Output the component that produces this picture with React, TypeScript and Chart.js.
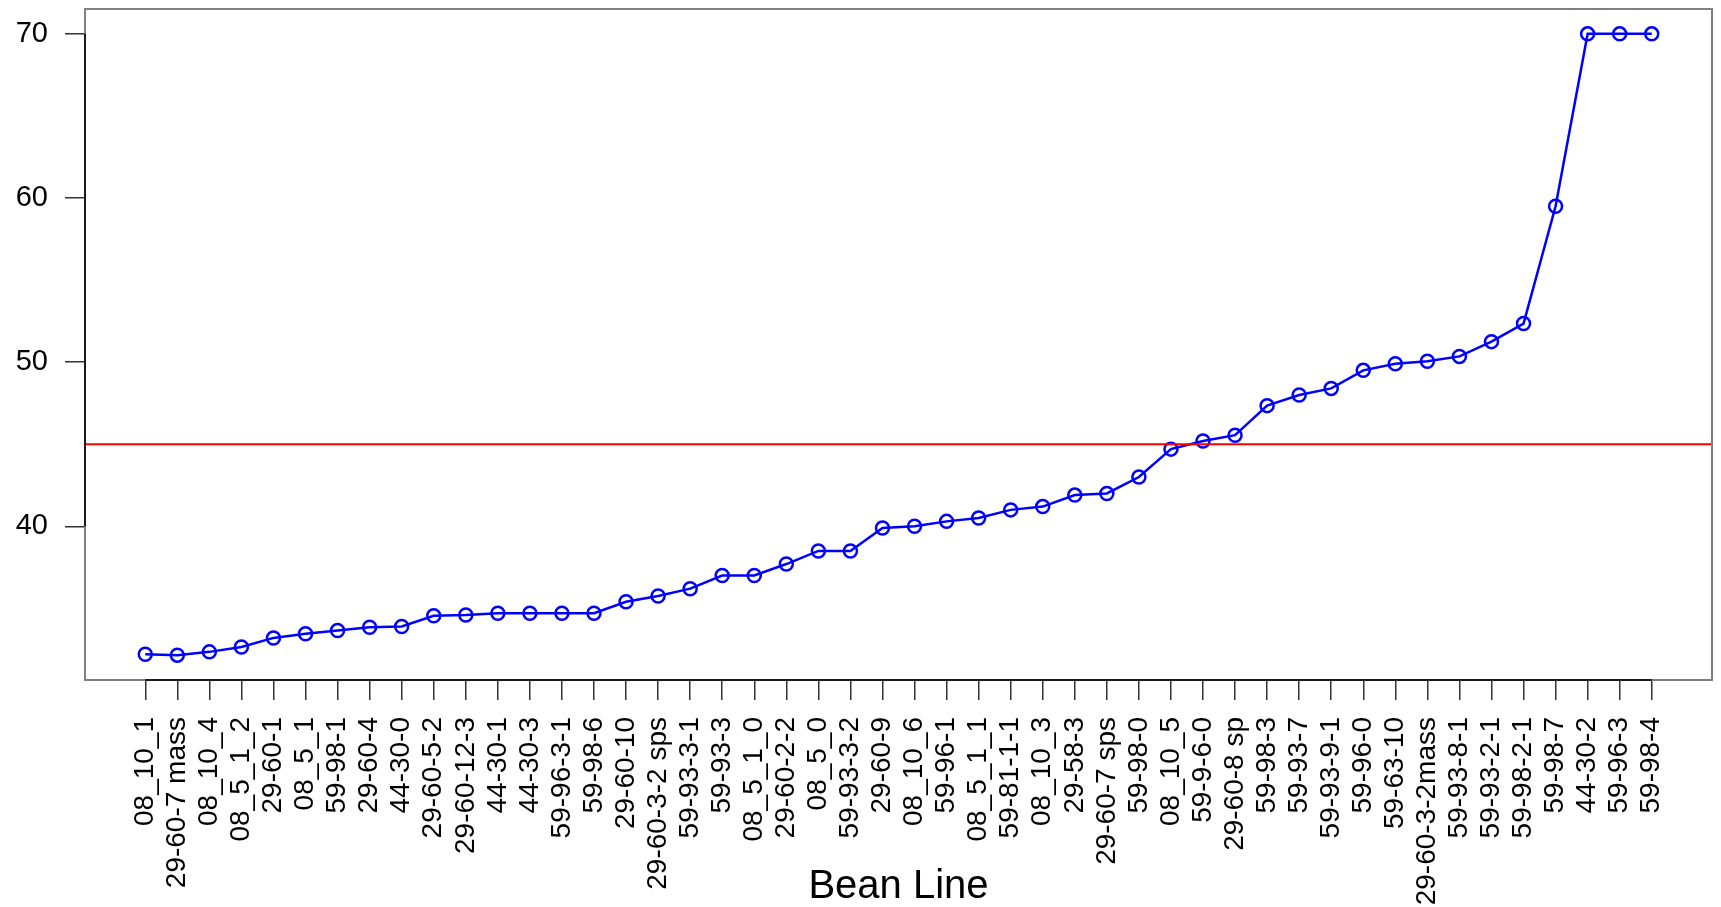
import React, { useEffect, useRef } from "react";
import { Chart, registerables } from "chart.js";

Chart.register(...registerables);

// Bean lines, sorted by measured value
const BEAN_LINES = [
  "08_10_1", "29-60-7 mass", "08_10_4", "08_5_1_2", "29-60-1", "08_5_1",
  "59-98-1", "29-60-4", "44-30-0", "29-60-5-2", "29-60-12-3", "44-30-1",
  "44-30-3", "59-96-3-1", "59-98-6", "29-60-10", "29-60-3-2 sps", "59-93-3-1",
  "59-93-3", "08_5_1_0", "29-60-2-2", "08_5_0", "59-93-3-2", "29-60-9",
  "08_10_6", "59-96-1", "08_5_1_1", "59-81-1-1", "08_10_3", "29-58-3",
  "29-60-7 sps", "59-98-0", "08_10_5", "59-9-6-0", "29-60-8 sp", "59-98-3",
  "59-93-7", "59-93-9-1", "59-96-0", "59-63-10", "29-60-3-2mass", "59-93-8-1",
  "59-93-2-1", "59-98-2-1", "59-98-7", "44-30-2", "59-96-3", "59-98-4",
];

const VALUES = [
  32.2, 32.15, 32.35, 32.65, 33.2, 33.45, 33.65, 33.85, 33.9, 34.55,
  34.6, 34.7, 34.7, 34.7, 34.7, 35.4, 35.75, 36.2, 37.0, 37.0,
  37.7, 38.5, 38.5, 39.9, 40.0, 40.3, 40.5, 41.0, 41.2, 41.9,
  42.0, 43.0, 44.7, 45.2, 45.55, 47.35, 48.0, 48.4, 49.5, 49.9,
  50.05, 50.35, 51.25, 52.35, 59.5, 70, 70, 70,
];

const Y_TICKS = [40, 50, 60, 70];
const THRESHOLD = 45;
const X_TITLE = "Bean Line";

const FONT = "'Liberation Sans', Arial, Helvetica, sans-serif";

// Axis limits padded 4% beyond the data range on each side
const yMinData = Math.min(...VALUES);
const yMaxData = Math.max(...VALUES);
const yPad = (yMaxData - yMinData) * 0.04;
const xPad = (BEAN_LINES.length - 1) * 0.04;

// Threshold line, plot frame and axis lines
const framePlugin = {
  id: "frame",
  afterDatasetsDraw(chart: any) {
    const { ctx, chartArea: a, scales } = chart;
    ctx.save();
    const yT = scales.y.getPixelForValue(THRESHOLD);
    ctx.strokeStyle = "#ff0000";
    ctx.lineWidth = 2;
    ctx.beginPath();
    ctx.moveTo(a.left, yT);
    ctx.lineTo(a.right, yT);
    ctx.stroke();

    ctx.strokeStyle = "#808080";
    ctx.lineWidth = 2;
    ctx.strokeRect(a.left, a.top, a.right - a.left, a.bottom - a.top);

    ctx.strokeStyle = "#1a1a1a";
    const y0 = scales.y.getPixelForValue(Y_TICKS[0]);
    const y1 = scales.y.getPixelForValue(Y_TICKS[Y_TICKS.length - 1]);
    ctx.beginPath();
    ctx.moveTo(a.left, y0);
    ctx.lineTo(a.left, y1);
    ctx.stroke();
    const x0 = scales.x.getPixelForValue(0);
    const x1 = scales.x.getPixelForValue(BEAN_LINES.length - 1);
    ctx.beginPath();
    ctx.moveTo(x0, a.bottom);
    ctx.lineTo(x1, a.bottom);
    ctx.stroke();
    ctx.restore();
  },
};

export default function App() {
  const canvasRef = useRef<HTMLCanvasElement | null>(null);

  useEffect(() => {
    if (!canvasRef.current) return;
    const chart = new Chart(canvasRef.current, {
      type: "line",
      data: {
        datasets: [
          {
            data: VALUES.map((v, i) => ({ x: i, y: v })),
            borderColor: "#0000ff",
            borderWidth: 2.5,
            pointRadius: 6.5,
            pointBorderWidth: 2.5,
            pointBorderColor: "#0000ff",
            pointBackgroundColor: "rgba(0,0,0,0)",
            tension: 0,
            fill: false,
          },
        ],
      },
      options: {
        responsive: false,
        devicePixelRatio: 1,
        animation: false,
        layout: { padding: { top: 5, right: 2, bottom: 0, left: 0 } },
        plugins: {
          legend: { display: false },
          tooltip: { enabled: false },
        },
        scales: {
          x: {
            type: "linear",
            min: -xPad,
            max: BEAN_LINES.length - 1 + xPad,
            afterBuildTicks: (scale: any) => {
              scale.ticks = BEAN_LINES.map((_, i) => ({ value: i }));
            },
            afterFit: (scale: any) => {
              scale.height = 227;
              scale.paddingLeft = 0;
              scale.paddingRight = 0;
            },
            grid: {
              drawOnChartArea: false,
              drawTicks: true,
              tickLength: 20,
              color: "#333",
              lineWidth: 1.5,
            },
            border: { display: false },
            ticks: {
              autoSkip: false,
              maxRotation: 90,
              minRotation: 90,
              padding: 17,
              color: "#000",
              font: { family: FONT, size: 28 },
              callback: (v: any) => BEAN_LINES[v as number] ?? "",
            },
            title: {
              display: true,
              text: X_TITLE,
              color: "#000",
              font: { family: FONT, size: 40, lineHeight: 1 },
              padding: { top: 0, bottom: 0 },
            },
          },
          y: {
            type: "linear",
            min: yMinData - yPad,
            max: yMaxData + yPad,
            afterBuildTicks: (scale: any) => {
              scale.ticks = Y_TICKS.map((v) => ({ value: v }));
            },
            afterFit: (scale: any) => {
              scale.width = 85;
              scale.paddingTop = 0;
              scale.paddingBottom = 0;
            },
            grid: {
              drawOnChartArea: false,
              drawTicks: true,
              tickLength: 20,
              color: "#333",
              lineWidth: 1.5,
            },
            border: { display: false },
            ticks: {
              padding: 17,
              color: "#000",
              font: { family: FONT, size: 29 },
            },
          },
        },
      },
      plugins: [framePlugin],
    });
    return () => chart.destroy();
  }, []);

  return (
    <div style={{ position: "fixed", left: 0, top: 0, width: 1721, height: 907, background: "#fff" }}>
      <canvas ref={canvasRef} width={1721} height={907} style={{ display: "block" }} />
    </div>
  );
}
